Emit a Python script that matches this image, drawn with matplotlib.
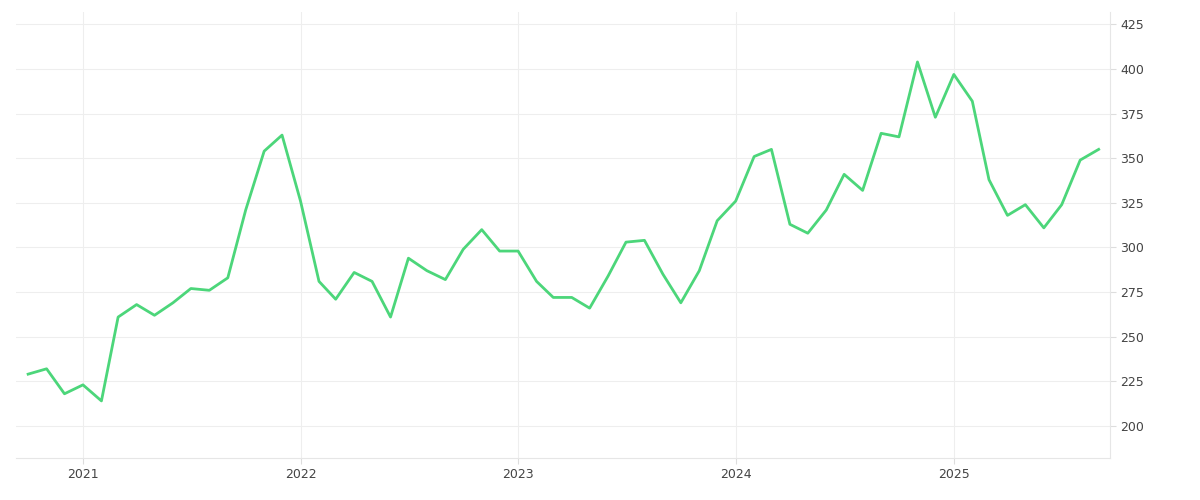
import matplotlib
matplotlib.use("Agg")
import matplotlib.pyplot as plt
import pandas as pd

dates = pd.date_range("2020-10-01", periods=60, freq="MS")
values = [229, 232, 218, 223, 214, 261, 268, 262, 269, 277, 276, 283,
          321, 354, 363, 326, 281, 271, 286, 281, 261, 294, 287, 282,
          299, 310, 298, 298, 281, 272, 272, 266, 284, 303, 304, 285,
          269, 287, 315, 326, 351, 355, 313, 308, 321, 341, 332, 364,
          362, 404, 373, 397, 382, 338, 318, 324, 311, 324, 349, 355]
yticks = [200, 225, 250, 275, 300, 325, 350, 375, 400, 425]
year_ticks = pd.to_datetime(["2021-01-01", "2022-01-01", "2023-01-01", "2024-01-01", "2025-01-01"])

fig = plt.figure(figsize=(12, 5), dpi=100)
ax = fig.add_axes([0.013, 0.084, 0.912, 0.892])
ax.plot(dates, values, color="#4cd67a", lw=2)

ax.set_ylim(182, 432)
ax.set_xlim(pd.Timestamp("2020-09-10"), pd.Timestamp("2025-09-20"))
ax.set_yticks(yticks)
ax.set_xticks(year_ticks)
ax.set_xticklabels([str(d.year) for d in year_ticks])
ax.yaxis.tick_right()
ax.tick_params(axis="both", length=4, color="#dddddd", labelsize=9, labelcolor="#444444")
ax.grid(True, color="#eeeeee", lw=0.8)
for s in ["top", "left"]:
    ax.spines[s].set_visible(False)
for s in ["right", "bottom"]:
    ax.spines[s].set_color("#e6e6e6")

fig.savefig("out.png", dpi=100)
